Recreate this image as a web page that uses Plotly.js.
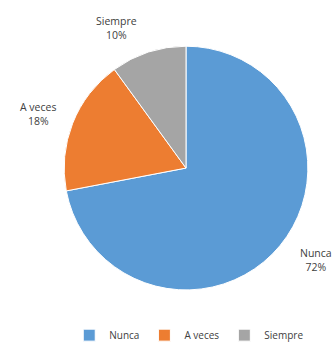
<!DOCTYPE html>
<html><head><meta charset="utf-8">
<script src="https://cdn.plot.ly/plotly-3.0.1.min.js"></script>
<style>html,body{margin:0;padding:0;background:#fff}#chart{width:332px;height:350px}</style>
</head><body><div id="chart"></div>
<script>
const categories = ["Nunca", "A veces", "Siempre"];
const values = [72, 18, 10];
const colors = ["#5B9BD5", "#ED7D31", "#A5A5A5"];
const labelPos = [[316, 265], [38, 116], [116, 28]];

const total = values.reduce((a, b) => a + b, 0);
const annotations = categories.map((c, i) => ({
  xref: "paper", yref: "paper",
  x: labelPos[i][0] / 332, y: 1 - labelPos[i][1] / 350,
  xanchor: "center", yanchor: "middle",
  text: c + "<br>" + Math.round(values[i] / total * 100) + "%",
  showarrow: false,
  font: {family: "Open Sans, Liberation Sans, sans-serif", size: 10.5, color: "#404040"}
}));

Plotly.newPlot("chart", [{
  type: "pie",
  labels: categories,
  values: values,
  sort: false,
  direction: "clockwise",
  rotation: 0,
  textinfo: "none",
  hoverinfo: "none",
  marker: {colors: colors, line: {color: "#ffffff", width: 1}},
  domain: {x: [62/332, 310/332], y: [1 - 295/350, 1 - 47/350]}
}], {
  width: 332, height: 350,
  margin: {l: 0, r: 0, t: 0, b: 0},
  paper_bgcolor: "#ffffff",
  showlegend: true,
  legend: {
    orientation: "h", x: 0.57, y: 1 - 341/350, xanchor: "center", yanchor: "middle",
    font: {family: "Open Sans, Liberation Sans, sans-serif", size: 10, color: "#404040"},
    itemwidth: 30, traceorder: "normal"
  },
  annotations: annotations
}, {staticPlot: true});
</script></body></html>
